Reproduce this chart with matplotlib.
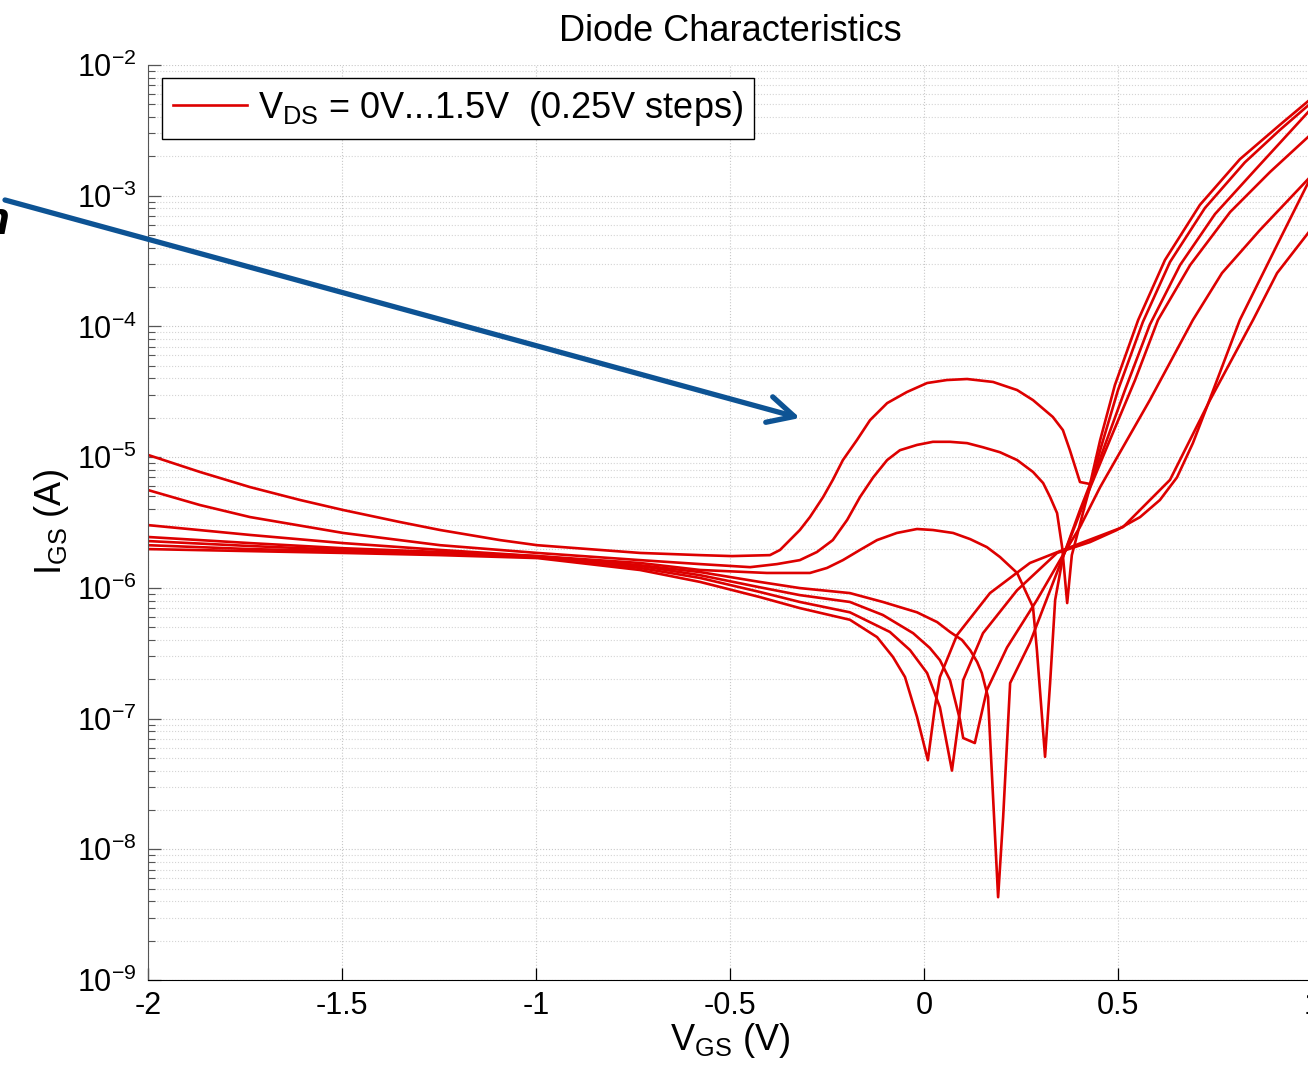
import numpy as np
import matplotlib
matplotlib.use("Agg")
import matplotlib.pyplot as plt
from matplotlib.ticker import LogLocator, NullFormatter, FixedLocator

plt.rcParams['font.family'] = ['Liberation Sans', 'DejaVu Sans']
plt.rcParams['mathtext.fontset'] = 'custom'
plt.rcParams['mathtext.rm'] = 'Liberation Sans'
plt.rcParams['axes.unicode_minus'] = False

# I_GS vs V_GS, one sweep per V_DS (0 V ... 1.5 V in 0.25 V steps)
vgs_150 = [-2.000, -1.866, -1.737, -1.608, -1.497, -1.351, -1.247, -1.093, -0.997, -0.835,
           -0.732, -0.577, -0.495, -0.397, -0.371, -0.320, -0.294, -0.260, -0.235, -0.209,
           -0.173, -0.139, -0.095, -0.044, 0.008, 0.059, 0.111, 0.178, 0.240, 0.281,
           0.332, 0.358, 0.376, 0.402, 0.428, 0.454, 0.492, 0.552, 0.621, 0.711,
           0.814, 0.918, 1.000]
igs_150 = [1.04e-5, 7.7e-6, 5.9e-6, 4.7e-6, 3.94e-6, 3.19e-6, 2.77e-6, 2.32e-6, 2.12e-6, 1.95e-6,
           1.85e-6, 1.78e-6, 1.75e-6, 1.78e-6, 1.95e-6, 2.77e-6, 3.48e-6, 4.95e-6, 6.7e-6, 9.5e-6,
           1.35e-5, 1.92e-5, 2.59e-5, 3.15e-5, 3.69e-5, 3.89e-5, 3.96e-5, 3.76e-5, 3.26e-5, 2.73e-5,
           2.03e-5, 1.61e-5, 1.13e-5, 6.45e-6, 6.23e-6, 1.35e-5, 3.56e-5, 1.12e-4, 3.22e-4, 8.5e-4,
           1.9e-3, 3.5e-3, 5.6e-3]

vgs_125 = [-2.000, -1.866, -1.737, -1.497, -1.247, -0.997, -0.732, -0.577, -0.448, -0.379,
           -0.320, -0.276, -0.235, -0.198, -0.165, -0.131, -0.095, -0.062, -0.018, 0.023,
           0.067, 0.111, 0.152, 0.196, 0.240, 0.281, 0.307, 0.325, 0.343, 0.356,
           0.369, 0.381, 0.415, 0.454, 0.500, 0.564, 0.634, 0.724, 0.827, 0.918, 1.000]
igs_125 = [5.6e-6, 4.3e-6, 3.48e-6, 2.63e-6, 2.12e-6, 1.85e-6, 1.63e-6, 1.52e-6, 1.44e-6, 1.52e-6,
           1.63e-6, 1.88e-6, 2.32e-6, 3.31e-6, 4.95e-6, 7.0e-6, 9.5e-6, 1.13e-5, 1.24e-5, 1.31e-5,
           1.31e-5, 1.28e-5, 1.19e-5, 1.09e-5, 9.5e-6, 7.7e-6, 6.34e-6, 4.95e-6, 3.73e-6, 2.05e-6,
           7.65e-7, 1.78e-6, 4.3e-6, 1.13e-5, 3.26e-5, 1.08e-4, 3.11e-4, 8.05e-4, 1.8e-3, 3.2e-3, 5.2e-3]

vgs_100 = [-2.000, -1.737, -1.497, -1.247, -0.997, -0.732, -0.577, -0.405, -0.294, -0.250,
           -0.209, -0.165, -0.121, -0.070, -0.018, 0.023, 0.075, 0.119, 0.162, 0.196,
           0.240, 0.281, 0.291, 0.312, 0.325, 0.338, 0.358, 0.402, 0.454, 0.518,
           0.582, 0.660, 0.750, 0.853, 1.000]
igs_100 = [3.02e-6, 2.54e-6, 2.20e-6, 1.95e-6, 1.75e-6, 1.55e-6, 1.37e-6, 1.30e-6, 1.30e-6, 1.42e-6,
           1.63e-6, 1.95e-6, 2.32e-6, 2.63e-6, 2.82e-6, 2.77e-6, 2.63e-6, 2.36e-6, 2.05e-6, 1.72e-6,
           1.30e-6, 7.1e-7, 3.34e-7, 5.1e-8, 1.87e-7, 8.07e-7, 1.72e-6, 3.94e-6, 9.8e-6, 3.26e-5,
           1.03e-4, 2.95e-4, 7.24e-4, 1.57e-3, 4.7e-3]

vgs_075 = [-2.000, -1.737, -1.497, -1.247, -0.997, -0.732, -0.577, -0.423, -0.320, -0.191,
           -0.106, -0.018, 0.034, 0.067, 0.098, 0.119, 0.137, 0.149, 0.165, 0.191,
           0.204, 0.222, 0.273, 0.358, 0.415, 0.479, 0.544, 0.603, 0.686, 0.789,
           0.892, 1.000]
igs_075 = [2.45e-6, 2.20e-6, 2.01e-6, 1.88e-6, 1.75e-6, 1.49e-6, 1.32e-6, 1.11e-6, 9.96e-7, 9.12e-7,
           7.8e-7, 6.5e-7, 5.47e-7, 4.6e-7, 3.99e-7, 3.34e-7, 2.71e-7, 2.23e-7, 1.46e-7, 4.3e-9,
           1.76e-8, 1.87e-7, 3.8e-7, 1.72e-6, 4.7e-6, 1.35e-5, 3.89e-5, 1.12e-4, 2.95e-4, 7.5e-4,
           1.52e-3, 3.0e-3]

vgs_050 = [-2.000, -1.737, -1.497, -1.247, -0.997, -0.732, -0.577, -0.423, -0.320, -0.191,
           -0.106, -0.028, 0.015, 0.041, 0.067, 0.093, 0.101, 0.131, 0.162, 0.214,
           0.291, 0.358, 0.402, 0.454, 0.582, 0.693, 0.768, 0.866, 1.000]
igs_050 = [2.28e-6, 2.09e-6, 1.95e-6, 1.85e-6, 1.72e-6, 1.47e-6, 1.25e-6, 1.01e-6, 8.8e-7, 7.8e-7,
           6.2e-7, 4.5e-7, 3.47e-7, 2.8e-7, 1.97e-7, 9.7e-8, 7.1e-8, 6.5e-8, 1.65e-7, 3.5e-7,
           8.07e-7, 1.78e-6, 2.92e-6, 5.9e-6, 2.73e-5, 1.12e-4, 2.56e-4, 5.47e-4, 1.44e-3]

vgs_025 = [-2.000, -1.737, -1.497, -1.247, -0.997, -0.732, -0.577, -0.423, -0.320, -0.191,
           -0.088, -0.036, 0.008, 0.041, 0.072, 0.093, 0.101, 0.152, 0.240, 0.343,
           0.428, 0.497, 0.557, 0.608, 0.652, 0.693, 0.729, 0.814, 0.910, 1.000]
igs_025 = [2.12e-6, 1.98e-6, 1.91e-6, 1.82e-6, 1.72e-6, 1.42e-6, 1.19e-6, 9.3e-7, 7.8e-7, 6.5e-7,
           4.6e-7, 3.34e-7, 2.23e-7, 1.22e-7, 4.0e-8, 1.16e-7, 1.97e-7, 4.5e-7, 9.6e-7, 1.85e-6,
           2.24e-6, 2.77e-6, 3.48e-6, 4.7e-6, 7.0e-6, 1.28e-5, 2.42e-5, 1.12e-4, 4.2e-4, 1.44e-3]

vgs_000 = [-2.000, -1.737, -1.497, -1.247, -0.997, -0.732, -0.577, -0.423, -0.320, -0.191,
           -0.121, -0.080, -0.049, -0.018, 0.010, 0.028, 0.041, 0.085, 0.170, 0.273,
           0.358, 0.513, 0.634, 0.737, 0.848, 0.910, 1.000]
igs_000 = [1.98e-6, 1.91e-6, 1.85e-6, 1.78e-6, 1.69e-6, 1.37e-6, 1.11e-6, 8.5e-7, 7.0e-7, 5.7e-7,
           4.2e-7, 2.96e-7, 2.08e-7, 1.03e-7, 4.8e-8, 1.22e-7, 2.08e-7, 4.35e-7, 9.12e-7, 1.55e-6,
           1.95e-6, 2.92e-6, 6.7e-6, 2.73e-5, 1.12e-4, 2.56e-4, 5.66e-4]

sweeps = [(vgs_000, igs_000), (vgs_025, igs_025), (vgs_050, igs_050), (vgs_075, igs_075),
          (vgs_100, igs_100), (vgs_125, igs_125), (vgs_150, igs_150)]

x_ticks = [-2, -1.5, -1, -0.5, 0, 0.5, 1]
x_ticklabels = ['-2', '-1.5', '-1', '-0.5', '0', '0.5', '1']
y_exps = [-9, -8, -7, -6, -5, -4, -3, -2]

red = '#dd0000'
fig = plt.figure(figsize=(13.08, 10.77), dpi=100)
ax = fig.add_axes([148/1308, 1 - 980/1077, 1164/1308, 915/1077])

for i, (v, cur) in enumerate(sweeps):
    ax.plot(v, cur, color=red, lw=1.9,
            label=r'V$_\mathregular{DS}$ = 0V...1.5V  (0.25V steps)' if i == 0 else None)

ax.set_yscale('log')
ax.set_xlim(-2, 1)
ax.set_ylim(1e-9, 1e-2)
ax.xaxis.set_major_locator(FixedLocator(x_ticks))
ax.set_xticklabels(x_ticklabels)
ax.yaxis.set_major_locator(FixedLocator([10.0**e for e in y_exps]))
ax.set_yticklabels([r'$\mathregular{10^{%d}}$' % e for e in y_exps])
ax.yaxis.set_minor_locator(LogLocator(base=10, subs=np.arange(2, 10), numticks=20))
ax.yaxis.set_minor_formatter(NullFormatter())

ax.grid(True, which='major', linestyle=':', color='#c8c8c8', lw=0.8)
ax.grid(True, which='minor', axis='y', linestyle=':', color='#d4d4d4', lw=0.8)
ax.set_axisbelow(True)

for s in ['top', 'right']:
    ax.spines[s].set_visible(False)
ax.spines['left'].set_color('#555555')
ax.spines['bottom'].set_color('black')
ax.tick_params(axis='both', which='major', direction='in', length=9, width=0.9,
               labelsize=22, pad=8)
ax.tick_params(axis='y', which='minor', direction='in', length=5, width=0.8)
ax.tick_params(axis='y', which='both', colors='#555555', labelcolor='black')

ax.set_title('Diode Characteristics', fontsize=26, pad=17)
ax.set_xlabel(r'V$_\mathregular{GS}$ (V)', fontsize=26, labelpad=0)
ax.set_ylabel(r'I$_\mathregular{GS}$ (A)', fontsize=26, labelpad=4)

leg = ax.legend(loc='upper left', bbox_to_anchor=(14/1164, 1 - 13/915), borderaxespad=0,
                fontsize=26, handlelength=2.05, handletextpad=0.3, fancybox=False,
                framealpha=1, edgecolor='black', borderpad=0.3)
leg.get_frame().set_linewidth(1.0)

# pointer arrow and a cropped-off letter at the left edge
ax.annotate('', xy=(800/1308, 1 - 418/1077), xycoords='figure fraction',
            xytext=(5/1308, 1 - 200/1077), textcoords='figure fraction',
            arrowprops=dict(arrowstyle='->,head_length=0.75,head_width=0.38',
                            color='#0d5394', lw=3.8, mutation_scale=25, shrinkA=0, shrinkB=0),
            annotation_clip=False)
fig.text(9/1308, 1 - 222/1077, 'n', fontsize=34, fontweight='bold', fontstyle='italic',
         ha='right', va='center')

fig.savefig('out.png', dpi=100)
